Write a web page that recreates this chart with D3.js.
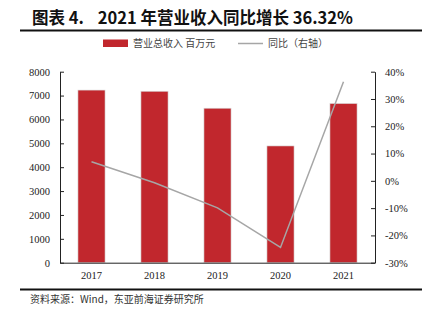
<!DOCTYPE html>
<html>
<head>
<meta charset="utf-8">
<script src="https://cdn.jsdelivr.net/npm/d3@7/dist/d3.min.js"></script>
<style>
  body { margin: 0; background: #fff; }
  svg { display: block; }
</style>
</head>
<body>
<svg id="chart" width="430" height="322"></svg>
<script>
// Annual revenue (million yuan) and year-over-year growth (%)
const years = ["2017", "2018", "2019", "2020", "2021"];
const revenue = [7230, 7180, 6470, 4890, 6666];
const growth = [7.0, -0.7, -9.9, -24.4, 36.32];
const leftTicks = [0, 1000, 2000, 3000, 4000, 5000, 6000, 7000, 8000];
const rightTicks = [-30, -20, -10, 0, 10, 20, 30, 40];

const titleParts = ["图表 4.", "2021 年营业收入同比增长 36.32%"];
const source = "资料来源：Wind，东亚前海证券研究所";
const legendBar = "营业总收入 百万元";
const legendLine = "同比（右轴）";

const svg = d3.select("#chart");
const serif = "'Liberation Serif', 'Times New Roman', serif";
const cjk = "'Noto Sans CJK SC', sans-serif";

const m = { left: 60, right: 375, top: 71.7, bottom: 262.7 };

const x = d3.scaleBand().domain(years).range([m.left, m.right]).paddingInner(0.57).paddingOuter(0.285);
const yL = d3.scaleLinear().domain([0, 8000]).range([m.bottom, m.top]);
const yR = d3.scaleLinear().domain([-30, 40]).range([m.bottom, m.top]);

// Title and rule beneath it
const t = svg.append("text")
  .attr("x", 32).attr("y", 24)
  .attr("font-family", cjk).attr("font-weight", "bold").attr("font-size", 16.5)
  .attr("fill", "#111");
t.append("tspan").text(titleParts[0]);
t.append("tspan").attr("dx", 14).text(titleParts[1]);
svg.append("line").attr("x1", 20).attr("x2", 422).attr("y1", 30.5).attr("y2", 30.5)
  .attr("stroke", "#111").attr("stroke-width", 1.8);

// Legend
svg.append("rect").attr("x", 103).attr("y", 39.5).attr("width", 25).attr("height", 7.5).attr("fill", "#C1272D");
svg.append("text").attr("x", 133).attr("y", 47).attr("font-family", cjk).attr("font-size", 10).attr("fill", "#444").text(legendBar);
svg.append("line").attr("x1", 238).attr("x2", 263).attr("y1", 43.5).attr("y2", 43.5).attr("stroke", "#A6A6A6").attr("stroke-width", 1.5);
svg.append("text").attr("x", 268).attr("y", 47).attr("font-family", cjk).attr("font-size", 10).attr("fill", "#444").text(legendLine);

// Bars
svg.append("g").selectAll("rect").data(years).join("rect")
  .attr("x", d => x(d))
  .attr("width", x.bandwidth())
  .attr("y", (d, i) => yL(revenue[i]))
  .attr("height", (d, i) => yL(0) - yL(revenue[i]))
  .attr("fill", "#C1272D")
  .attr("stroke", "#d8d8d8").attr("stroke-width", 0.6);

// Growth line
const line = d3.line().x((d, i) => x(years[i]) + x.bandwidth() / 2).y(d => yR(d));
svg.append("path").datum(growth).attr("d", line)
  .attr("fill", "none").attr("stroke", "#A6A6A6").attr("stroke-width", 1.5);

// Axes
const styleAxis = g => {
  g.select(".domain").attr("stroke", "#222").attr("stroke-width", 1);
  g.selectAll(".tick line").attr("stroke", "#222");
  g.selectAll("text").attr("font-family", serif).attr("font-size", 10.5).attr("fill", "#222");
};

svg.append("g").attr("transform", `translate(${m.left},0)`)
  .call(d3.axisLeft(yL).tickValues(leftTicks).tickFormat(d3.format("d")).tickSizeInner(-4).tickSizeOuter(0).tickPadding(10))
  .call(styleAxis);

svg.append("g").attr("transform", `translate(${m.right},0)`)
  .call(d3.axisRight(yR).tickValues(rightTicks).tickFormat(d => d + "%").tickSizeInner(-4).tickSizeOuter(0).tickPadding(10))
  .call(styleAxis);

svg.append("g").attr("transform", `translate(0,${m.bottom})`)
  .call(d3.axisBottom(x).tickSize(0).tickPadding(9))
  .call(styleAxis);

// Bottom rule and source note
svg.append("line").attr("x1", 20).attr("x2", 422).attr("y1", 289.5).attr("y2", 289.5)
  .attr("stroke", "#111").attr("stroke-width", 1.8);
svg.append("text").attr("x", 30).attr("y", 303)
  .attr("font-family", cjk).attr("font-size", 10).attr("fill", "#333").text(source);
</script>
</body>
</html>
